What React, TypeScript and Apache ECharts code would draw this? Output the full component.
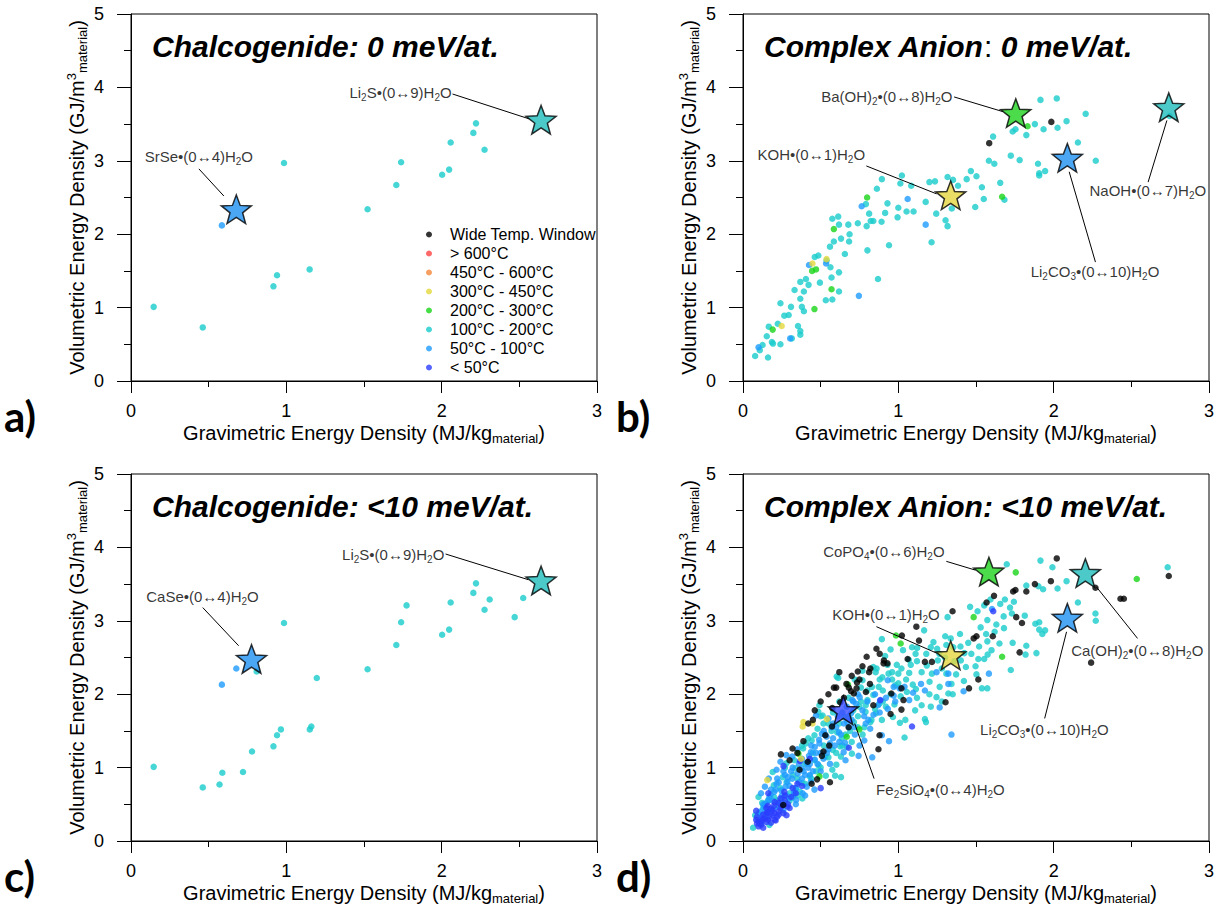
import React, { useEffect, useRef } from "react";
import * as echarts from "echarts";

const FONT = "'Liberation Sans', Arial, sans-serif";

const CATEGORY_NAMES = [
  "Wide Temp. Window",
  "> 600°C",
  "450°C - 600°C",
  "300°C - 450°C",
  "200°C - 300°C",
  "100°C - 200°C",
  "50°C - 100°C",
  "< 50°C",
];
const CATEGORY_COLORS = ["#000000", "#ff4242", "#f5873a", "#e4d83c", "#19d419", "#19cccc", "#1e9bff", "#2a3cff"];

const PANEL_TITLES = [
  "{b|Chalcogenide: 0 meV/at.}",
  "{b|Complex Anion}{n|:}{b| 0 meV/at.}",
  "{b|Chalcogenide: <10 meV/at.}",
  "{b|Complex Anion: <10 meV/at.}",
];
const PANEL_LETTERS = ["a)", "b)", "c)", "d)"];

// ---------- panel a ----------
const aBlue = [[0.585, 2.12]];
const aCyan = [
  [0.985, 2.97], [0.146, 1.01], [0.462, 0.73], [0.917, 1.29], [0.94, 1.44], [1.15, 1.52],
  [1.523, 2.34], [1.708, 2.67], [1.739, 2.98], [2.003, 2.81], [2.048, 2.88], [2.058, 3.25],
  [2.204, 3.38], [2.221, 3.51], [2.276, 3.15],
];

// ---------- panel b ----------
const bBlack = [[1.585, 3.24], [1.985, 3.53]];
const bGreen = [
  [1.832, 3.47], [1.668, 2.51], [0.799, 2.5], [0.585, 2.07], [0.191, 0.7], [0.445, 1.5],
  [0.47, 1.52], [0.46, 0.98], [0.57, 1.25],
];
const bYellow = [[0.447, 1.6], [0.538, 1.66], [0.249, 0.75]];
const bBlue = [
  [0.425, 1.58], [0.535, 1.6], [0.764, 2.38], [1.06, 2.48], [1.176, 2.13], [0.746, 1.16],
  [0.1, 0.46], [0.304, 0.58],
];
const bCyan = [
  [1.915, 3.83], [2.02, 3.85], [1.879, 3.5], [1.935, 3.43], [2.025, 3.45], [2.083, 3.54],
  [2.206, 3.64], [1.736, 3.4], [1.754, 3.43], [1.824, 3.35], [1.61, 3.33], [1.583, 3.0],
  [1.618, 2.96], [1.724, 3.07], [1.781, 3.01], [1.899, 2.96], [1.907, 2.83], [1.907, 2.8],
  [1.945, 2.86], [2.156, 3.25], [2.271, 3.0], [2.746, 3.61],
  [1.467, 2.86], [1.503, 2.79], [1.44, 2.75], [1.317, 2.78], [1.352, 2.74], [1.236, 2.72],
  [1.2, 2.71], [1.023, 2.8], [1.013, 2.69], [1.083, 2.66], [0.894, 2.75], [0.862, 2.62],
  [1.538, 2.64], [1.656, 2.7], [1.683, 2.47], [1.55, 2.48], [1.495, 2.37], [1.344, 2.35],
  [1.384, 2.66], [1.176, 2.44], [1.244, 2.28], [1.304, 2.19], [1.317, 2.11], [1.214, 1.89],
  [1.098, 2.31], [1.053, 2.31], [1.0, 2.36], [0.995, 2.23], [0.93, 2.42], [0.915, 2.29],
  [0.892, 2.17], [0.94, 1.85], [0.869, 1.39], [0.839, 2.18], [0.812, 2.28], [0.822, 2.18],
  [0.796, 2.11], [0.791, 2.41], [0.801, 1.78], [0.739, 2.15], [0.686, 2.0], [0.683, 1.9],
  [0.678, 2.13], [0.631, 1.94], [0.656, 1.73], [0.618, 2.13], [0.613, 2.24], [0.575, 2.21],
  [0.585, 1.9], [0.56, 1.83], [0.618, 1.48], [0.57, 1.41], [0.563, 1.55], [0.538, 1.64],
  [0.485, 1.71], [0.462, 1.69], [0.533, 1.1], [0.575, 1.11], [0.618, 1.22], [0.495, 1.34],
  [0.422, 1.31], [0.405, 1.39], [0.369, 1.35], [0.332, 1.24], [0.392, 1.22], [0.369, 1.12],
  [0.379, 1.01], [0.392, 0.95], [0.309, 1.01], [0.241, 1.06], [0.294, 0.9], [0.266, 0.89],
  [0.354, 0.75], [0.369, 0.68], [0.369, 0.63], [0.314, 0.58], [0.224, 0.78], [0.166, 0.74],
  [0.153, 0.61], [0.186, 0.53], [0.241, 0.5], [0.126, 0.49], [0.108, 0.42], [0.078, 0.34],
  [0.161, 0.32], [0.193, 0.51],
];

// ---------- panel c ----------
const cBlue = [[0.585, 2.13], [0.678, 2.35]];
const cCyan = [
  [0.809, 2.31], [0.985, 2.97], [1.196, 2.22], [0.146, 1.01], [0.462, 0.73], [0.57, 0.77],
  [0.588, 0.93], [0.721, 0.94], [0.779, 1.22], [0.917, 1.29], [0.94, 1.44], [0.965, 1.52],
  [1.151, 1.52], [1.161, 1.56], [1.523, 2.34], [1.708, 2.67], [1.739, 2.98], [1.774, 3.21],
  [2.003, 2.81], [2.048, 2.88], [2.058, 3.25], [2.204, 3.38], [2.221, 3.51], [2.276, 3.15],
  [2.309, 3.29], [2.47, 3.05], [2.525, 3.31],
];

// ---------- panel d ----------
const dBlack = [
  [2.02, 3.85], [1.982, 3.54], [1.879, 3.5], [1.824, 3.4], [1.754, 3.42], [1.739, 3.4],
  [1.616, 3.34], [1.568, 3.25], [1.759, 3.05], [1.796, 2.97], [1.781, 2.57], [2.269, 3.45],
  [2.43, 3.3], [2.452, 3.3], [2.741, 3.61], [2.241, 2.43], [1.608, 2.79], [1.515, 2.2],
  [1.455, 2.08], [1.349, 3.13], [1.304, 1.89], [1.503, 2.79], [1.485, 2.76], [1.116, 2.92],
  [1.023, 2.8], [1.133, 2.73], [1.171, 2.44], [1.216, 2.44], [1.06, 2.48], [1.02, 2.08],
  [1.033, 1.92], [1.02, 1.79], [0.95, 1.73], [0.955, 2.01], [0.907, 2.46], [0.905, 2.42],
  [0.93, 2.42], [0.859, 2.62], [0.796, 2.51], [0.769, 2.38], [0.812, 2.3], [0.739, 2.31],
  [0.731, 2.08], [0.714, 2.01], [0.696, 2.04], [0.681, 2.09], [0.666, 2.14], [0.734, 2.16],
  [0.817, 2.14], [0.791, 2.03], [0.6, 2.09], [0.585, 2.09], [0.626, 1.89], [0.575, 1.81],
  [0.462, 1.78], [0.42, 1.6], [0.573, 1.56], [0.53, 1.44], [0.555, 1.3], [0.518, 1.22],
  [0.508, 1.16], [0.417, 1.08], [0.389, 1.36], [0.244, 1.18], [0.319, 1.26], [0.477, 0.84],
  [0.56, 0.8], [0.442, 0.78], [0.364, 0.97], [0.259, 0.49], [0.872, 1.25], [0.879, 1.44],
  [0.839, 1.85],
  [0.65, 1.95], [0.7, 2.25], [0.75, 2.2], [0.62, 2.3], [0.55, 2.0], [0.5, 1.9], [0.45, 1.65],
  [0.68, 1.55], [0.35, 1.2], [0.3, 1.1], [0.82, 2.35], [0.88, 2.55],
];
const dGreen = [
  [1.756, 3.66], [2.535, 3.57], [1.485, 3.05], [0.985, 2.8], [1.015, 2.69], [1.668, 2.51],
  [0.676, 2.13], [0.668, 1.42], [0.749, 1.52], [0.357, 1.19], [0.492, 0.88],
];
const dYellow = [[0.389, 1.62], [0.447, 1.6], [0.384, 1.56], [0.54, 1.66], [0.156, 0.83], [0.374, 1.12]];
const dCyan = [
  [1.698, 3.77], [1.915, 3.82], [1.992, 3.73], [2.083, 3.54], [1.902, 3.47], [1.932, 3.43],
  [2.025, 3.44], [1.824, 3.48], [2.734, 3.73], [2.269, 3.1], [2.271, 3.0], [2.156, 3.25],
  [1.907, 2.98], [1.907, 2.88], [1.945, 2.87], [1.927, 2.82], [1.882, 2.96], [1.814, 3.07],
  [1.731, 3.1], [1.678, 3.06], [1.631, 2.95], [1.656, 3.23], [1.686, 3.29], [1.744, 3.26],
  [1.719, 3.18], [1.593, 3.29], [1.553, 3.21], [1.51, 3.13], [1.462, 3.19], [1.573, 3.01],
  [1.53, 2.91], [1.565, 2.82], [1.573, 2.72], [1.651, 2.69], [1.736, 2.7], [1.824, 2.66],
  [1.819, 2.54], [1.889, 2.56], [1.724, 2.33], [1.575, 2.54], [1.553, 2.48], [1.515, 2.48],
  [1.497, 2.38], [1.503, 2.27], [1.538, 2.08], [1.573, 2.08], [1.397, 2.82], [1.337, 2.76],
  [1.302, 2.79], [1.317, 3.05], [1.309, 2.67], [1.354, 2.64], [1.425, 2.56], [1.402, 2.46],
  [1.435, 2.37], [1.422, 2.18], [1.372, 2.27], [1.342, 2.14], [1.309, 2.28], [1.322, 2.01],
  [1.266, 2.1], [1.246, 1.96], [1.209, 1.83], [1.171, 1.66], [1.178, 1.62], [1.04, 1.41],
  [1.01, 1.61], [0.965, 1.69], [1.045, 1.65], [1.108, 1.78], [1.201, 2.17], [1.216, 2.28],
  [1.183, 2.39], [1.254, 2.46], [1.264, 2.55], [1.209, 2.64], [1.226, 2.71], [1.166, 2.87],
  [1.121, 2.63], [1.111, 2.55], [1.068, 2.47], [0.99, 2.4], [1.0, 2.28], [0.98, 2.12],
  [0.937, 2.28], [0.915, 2.52], [0.894, 2.75], [0.95, 2.61], [1.03, 2.6], [1.088, 2.64],
  [1.07, 2.29], [1.093, 2.13], [1.113, 2.07], [1.055, 2.03], [1.015, 1.97], [0.975, 1.86],
  [0.92, 1.83], [0.877, 1.87], [0.839, 1.99], [0.874, 2.1], [0.897, 2.23], [0.854, 2.3],
  [0.839, 2.37], [0.769, 2.32], [0.769, 2.19], [0.759, 2.09], [0.801, 1.92], [0.749, 1.83],
  [0.789, 1.76], [0.857, 1.74], [0.894, 1.65], [0.827, 1.65], [0.781, 1.55], [0.714, 1.62],
  [0.651, 1.69], [0.613, 2.22], [0.603, 2.24], [0.492, 1.85], [0.485, 1.76], [0.513, 1.71],
  [0.518, 1.6], [0.48, 1.53], [0.46, 1.44], [0.442, 1.37], [0.405, 1.33], [0.387, 1.26],
  [0.606, 1.48], [0.636, 1.4], [0.668, 1.28], [0.701, 1.19], [0.626, 1.29], [0.578, 1.24],
  [0.55, 1.14], [0.601, 1.04], [0.575, 0.97], [0.533, 0.89], [0.593, 0.89], [0.631, 0.87],
  [0.487, 1.03], [0.43, 0.88], [0.382, 0.79], [0.342, 0.72], [0.367, 0.67], [0.382, 0.58],
  [0.319, 0.59], [0.266, 0.52], [0.229, 0.47], [0.198, 0.76], [0.191, 0.94], [0.279, 1.06],
  [0.337, 0.99], [0.322, 0.9], [0.256, 0.87], [0.153, 0.33], [0.078, 0.35], [0.065, 0.18],
  [0.095, 0.29], [0.123, 0.52], [0.1, 0.6],
  [0.2, 0.6], [0.24, 0.72], [0.28, 0.8], [0.3, 0.55], [0.35, 0.62], [0.4, 0.78], [0.44, 0.85],
  [0.47, 0.95], [0.5, 1.0], [0.53, 1.15], [0.6, 1.2], [0.63, 1.15], [0.66, 1.45], [0.7, 1.35],
  [0.74, 1.55], [0.77, 1.45], [0.82, 1.62], [0.85, 1.8], [0.9, 1.9], [0.95, 2.0], [1.0, 2.15],
  [1.05, 2.2], [0.55, 1.6], [0.5, 1.7], [0.42, 1.4], [0.38, 1.3], [0.33, 1.1], [0.27, 1.0],
  [0.16, 0.55], [0.13, 0.45], [0.1, 0.38], [0.17, 0.22], [0.12, 0.25], [0.58, 1.75], [0.62, 1.9],
  [0.68, 1.95], [0.72, 2.2], [0.8, 2.05], [0.86, 2.35], [0.93, 2.4],
  [0.35, 0.85], [0.45, 1.2], [0.52, 1.3], [0.57, 1.5], [0.62, 1.6], [0.68, 1.7], [0.71, 1.78],
  [0.76, 1.9], [0.83, 2.1], [0.88, 2.2], [0.96, 2.3], [1.02, 2.35], [1.08, 2.4], [1.12, 2.45],
  [1.15, 2.3], [1.18, 2.55], [1.25, 2.62], [1.3, 2.5], [1.28, 2.35], [1.36, 2.45], [1.4, 2.65],
  [1.45, 2.7], [1.47, 2.55], [1.52, 2.65], [1.6, 2.6], [1.62, 2.85], [1.68, 2.9], [0.3, 0.65],
  [0.25, 0.58], [0.22, 0.55], [0.18, 0.42], [0.4, 1.05], [0.46, 1.1], [0.64, 1.3], [0.69, 1.5],
  [0.74, 1.7], [0.79, 1.85], [0.9, 2.05], [0.96, 2.2], [1.12, 1.95], [1.15, 1.85], [1.2, 2.0],
  [1.28, 1.9], [1.35, 2.0],
];
const dBlue = [
  [1.603, 3.16], [1.583, 2.28], [1.42, 2.04], [1.266, 1.82], [1.342, 1.45], [1.322, 2.28],
  [1.322, 2.14], [1.246, 2.3], [1.171, 2.05], [1.146, 2.14], [1.095, 2.02], [1.07, 1.92],
  [1.008, 2.08], [0.97, 2.1], [0.932, 2.19], [0.882, 1.91], [0.932, 1.8], [0.94, 1.36],
  [0.894, 1.44], [0.819, 1.53], [0.807, 1.65], [0.769, 1.78], [0.729, 1.87], [0.751, 1.96],
  [0.704, 1.92], [0.696, 1.74], [0.719, 1.55], [0.683, 1.55], [0.744, 1.16], [0.832, 1.14],
  [0.781, 1.37], [0.656, 1.34], [0.648, 1.21], [0.56, 1.33], [0.538, 1.42], [0.508, 1.46],
  [0.492, 1.33], [0.462, 1.28], [0.437, 1.21], [0.425, 1.16], [0.462, 1.11], [0.518, 1.12],
  [0.41, 1.06], [0.379, 0.99], [0.352, 0.92], [0.317, 0.85], [0.286, 0.81], [0.274, 0.74],
  [0.246, 0.69], [0.216, 0.78], [0.201, 0.67], [0.178, 0.63], [0.166, 0.56], [0.146, 0.51],
  [0.136, 0.47], [0.116, 0.65], [0.111, 0.4], [0.329, 0.64], [0.296, 0.58], [0.342, 0.56],
  [0.384, 0.65], [0.41, 0.74], [0.437, 0.81], [0.618, 1.48], [0.58, 1.6], [0.55, 1.67],
  [0.668, 1.83], [0.47, 1.71], [0.317, 1.15], [0.279, 1.17], [0.241, 1.08], [0.216, 0.97],
  [0.166, 0.85], [0.141, 0.74],
  [0.2, 0.45], [0.25, 0.62], [0.3, 0.75], [0.33, 0.68], [0.36, 0.8], [0.4, 0.9], [0.42, 1.0],
  [0.45, 0.95], [0.48, 1.05], [0.5, 1.2], [0.55, 1.25], [0.58, 1.4], [0.62, 1.35], [0.6, 1.55],
  [0.65, 1.6], [0.7, 1.65], [0.72, 1.45], [0.78, 1.7], [0.8, 1.9], [0.85, 2.0], [0.88, 1.75],
  [0.92, 1.95], [0.98, 1.9], [0.27, 0.9], [0.31, 0.95], [0.38, 1.12], [0.35, 1.25], [0.44, 1.3],
  [0.52, 1.5], [0.15, 0.4], [0.18, 0.7], [0.22, 0.85], [0.12, 0.35], [0.26, 0.42], [0.34, 0.5],
  [0.4, 0.62], [0.46, 0.7], [0.56, 1.05], [0.66, 1.1], [0.75, 1.3],
  [0.13, 0.5], [0.17, 0.6], [0.21, 0.7], [0.23, 0.8], [0.26, 0.95], [0.29, 0.87], [0.32, 1.0],
  [0.36, 1.05], [0.39, 0.95], [0.43, 1.05], [0.47, 1.2], [0.49, 1.38], [0.53, 1.45], [0.57, 1.55],
  [0.61, 1.7], [0.64, 1.75], [0.67, 1.62], [0.71, 1.9], [0.74, 2.0], [0.79, 1.6], [0.84, 1.72],
  [0.87, 1.85], [0.97, 1.98], [1.04, 2.1], [0.19, 0.55], [0.24, 0.5], [0.28, 0.62], [0.34, 0.72],
  [0.38, 0.85], [0.43, 0.9], [0.5, 0.95], [0.54, 1.2], [0.59, 1.3], [0.63, 1.45],
];
const dDark = [
  [1.088, 1.56], [1.611, 3.13], [0.884, 1.92], [0.681, 1.27], [0.5, 0.72], [0.367, 1.09],
  [0.261, 1.02], [0.266, 0.67], [0.241, 0.58], [0.204, 0.53], [0.178, 0.44], [0.153, 0.38],
  [0.128, 0.31], [0.103, 0.26], [0.116, 0.22], [0.085, 0.29], [0.161, 0.29], [0.204, 0.29],
  [0.191, 0.35], [0.229, 0.4], [0.161, 0.39], [0.085, 0.41], [0.163, 0.65], [0.286, 0.47],
  [0.229, 0.52],
  [0.1, 0.2], [0.13, 0.18], [0.14, 0.3], [0.18, 0.25], [0.2, 0.38], [0.22, 0.33], [0.12, 0.28],
  [0.24, 0.45], [0.27, 0.55], [0.3, 0.45], [0.32, 0.72], [0.28, 0.35], [0.16, 0.48], [0.09, 0.33],
  [0.35, 0.78], [0.43, 1.12],
  [0.11, 0.24], [0.13, 0.36], [0.15, 0.26], [0.17, 0.33], [0.19, 0.42], [0.21, 0.28], [0.23, 0.36],
  [0.25, 0.48], [0.26, 0.38], [0.29, 0.5], [0.31, 0.6], [0.34, 0.65], [0.15, 0.45], [0.09, 0.24],
  [0.2, 0.48], [0.38, 0.75], [0.27, 0.62],
];

// ---------- highlighted compounds (stars) ----------
const starPanel = [0, 0, 1, 1, 1, 1, 2, 2, 3, 3, 3, 3, 3];
const starX = [2.64, 0.678, 1.756, 1.337, 2.088, 2.741, 0.776, 2.64, 1.583, 2.204, 2.088, 1.337, 0.646];
const starY = [3.56, 2.34, 3.65, 2.53, 3.04, 3.73, 2.48, 3.55, 3.67, 3.65, 3.04, 2.53, 1.78];
const starColor = ["#1fbcbc", "#1e90f0", "#1ed21e", "#e6d640", "#1e90f0", "#1fbcbc", "#1e90f0", "#1fbcbc", "#1ed21e", "#1fbcbc", "#1e90f0", "#e6d640", "#3a4cff"];

// ---------- annotation labels ----------
const noteText = [
  "{n|Li}{s|2}{n|S•(0↔9)H}{s|2}{n|O}",
  "{n|SrSe•(0↔4)H}{s|2}{n|O}",
  "{n|Ba(OH)}{s|2}{n|•(0↔8)H}{s|2}{n|O}",
  "{n|KOH•(0↔1)H}{s|2}{n|O}",
  "{n|Li}{s|2}{n|CO}{s|3}{n|•(0↔10)H}{s|2}{n|O}",
  "{n|NaOH•(0↔7)H}{s|2}{n|O}",
  "{n|CaSe•(0↔4)H}{s|2}{n|O}",
  "{n|Li}{s|2}{n|S•(0↔9)H}{s|2}{n|O}",
  "{n|CoPO}{s|4}{n|•(0↔6)H}{s|2}{n|O}",
  "{n|KOH•(0↔1)H}{s|2}{n|O}",
  "{n|Ca(OH)}{s|2}{n|•(0↔8)H}{s|2}{n|O}",
  "{n|Li}{s|2}{n|CO}{s|3}{n|•(0↔10)H}{s|2}{n|O}",
  "{n|Fe}{s|2}{n|SiO}{s|4}{n|•(0↔4)H}{s|2}{n|O}",
];
const notePanel = [0, 0, 1, 1, 1, 1, 2, 2, 3, 3, 3, 3, 3];
const noteX = [1.735, 0.437, 0.926, 0.44, 2.266, 2.606, 0.46, 1.688, 0.907, 0.921, 2.538, 1.94, 1.271];
const noteY = [3.93, 3.06, 3.87, 3.09, 1.49, 2.59, 3.33, 3.91, 3.95, 3.08, 2.6, 1.52, 0.7];
const leaderFrom = [[2.07, 3.91], [0.437, 2.89], [1.359, 3.87], [0.794, 2.93], [2.269, 1.62], [2.608, 2.71], [0.462, 3.18], [2.025, 3.91], [1.309, 3.81], [0.859, 2.92], [2.54, 2.76], [1.942, 1.67], [0.844, 0.85]];
const leaderTo = [[2.565, 3.57], [0.598, 2.52], [1.673, 3.67], [1.246, 2.55], [2.1, 2.85], [2.729, 3.55], [0.693, 2.66], [2.558, 3.56], [1.497, 3.69], [1.246, 2.56], [2.276, 3.46], [2.083, 2.85], [0.719, 1.6]];

const STAR_PATH =
  "path://M50 0 L62.34 33.01 L97.55 34.55 L69.97 56.49 L79.39 90.45 L50 71 L20.61 90.45 L30.03 56.49 L2.45 34.55 L37.66 33.01 Z";

const GRIDS = [
  { left: 131, top: 14 },
  { left: 743, top: 14 },
  { left: 131, top: 474 },
  { left: 743, top: 474 },
];
const GW = 466;
const GH = 367;

function buildOption() {
  const grid = GRIDS.map((g) => ({
    left: g.left,
    top: g.top,
    width: GW,
    height: GH,
    show: true,
    borderColor: "#000",
    borderWidth: 1,
    backgroundColor: "transparent",
  }));

  const tickLine = { color: "#000", width: 1 };
  const xAxis = GRIDS.map((_, i) => ({
    type: "value",
    gridIndex: i,
    min: 0,
    max: 3,
    interval: 1,
    axisLine: { show: true, onZero: false, lineStyle: tickLine },
    axisTick: { show: true, inside: false, length: 12, lineStyle: tickLine },
    minorTick: { show: true, splitNumber: 2, length: 6, lineStyle: tickLine },
    splitLine: { show: false },
    minorSplitLine: { show: false },
    axisLabel: { fontSize: 18, color: "#000", margin: 21, fontFamily: FONT },
    name: "{m|Gravimetric Energy Density (MJ/kg}{sub|material}{m|)}",
    nameLocation: "middle",
    nameGap: 40,
    nameTextStyle: {
      fontFamily: FONT,
      color: "#000",
      rich: {
        m: { fontSize: 20, lineHeight: 24, fontFamily: FONT, color: "#000" },
        sub: { fontSize: 13, lineHeight: 12, verticalAlign: "bottom", fontFamily: FONT, color: "#000" },
      },
    },
  }));
  const yAxis = GRIDS.map((_, i) => ({
    type: "value",
    gridIndex: i,
    min: 0,
    max: 5,
    interval: 1,
    axisLine: { show: true, onZero: false, lineStyle: tickLine },
    axisTick: { show: true, inside: false, length: 14, lineStyle: tickLine },
    minorTick: { show: true, splitNumber: 2, length: 7, lineStyle: tickLine },
    splitLine: { show: false },
    minorSplitLine: { show: false },
    axisLabel: { fontSize: 18, color: "#000", margin: 27, fontFamily: FONT },
    name: "{m|Volumetric Energy Density (GJ/m}{sup|3}{sub|material}{m|)}",
    nameLocation: "middle",
    nameGap: 42,
    nameTextStyle: {
      fontFamily: FONT,
      color: "#000",
      rich: {
        m: { fontSize: 20, lineHeight: 24, fontFamily: FONT, color: "#000" },
        sup: { fontSize: 13, lineHeight: 12, verticalAlign: "top", fontFamily: FONT, color: "#000" },
        sub: { fontSize: 13, lineHeight: 12, verticalAlign: "bottom", fontFamily: FONT, color: "#000" },
      },
    },
  }));

  const series: any[] = [];
  const dots = (data: number[][], cat: number, gi: number) => ({
    type: "scatter",
    name: CATEGORY_NAMES[cat],
    xAxisIndex: gi,
    yAxisIndex: gi,
    data,
    symbol: "circle",
    symbolSize: 6.5,
    itemStyle: { color: CATEGORY_COLORS[cat] },
    silent: true,
    z: 2,
  });

  // legend entries (in legend order) on panel a
  series.push(dots([], 0, 0));
  series.push(dots([], 1, 0));
  series.push(dots([], 2, 0));
  series.push(dots([], 3, 0));
  series.push(dots([], 4, 0));
  series.push(dots(aCyan, 5, 0));
  series.push(dots(aBlue, 6, 0));
  series.push(dots([], 7, 0));

  // panel b
  series.push(dots(bCyan, 5, 1));
  series.push(dots(bBlue, 6, 1));
  series.push(dots(bGreen, 4, 1));
  series.push(dots(bYellow, 3, 1));
  series.push(dots(bBlack, 0, 1));
  // panel c
  series.push(dots(cCyan, 5, 2));
  series.push(dots(cBlue, 6, 2));
  // panel d
  series.push(dots(dCyan, 5, 3));
  series.push(dots(dBlue, 6, 3));
  series.push(dots(dDark, 7, 3));
  series.push(dots(dGreen, 4, 3));
  series.push(dots(dYellow, 3, 3));
  series.push(dots(dBlack, 0, 3));

  // leader lines
  leaderFrom.forEach((f, i) => {
    series.push({
      type: "line",
      xAxisIndex: notePanel[i],
      yAxisIndex: notePanel[i],
      data: [f, leaderTo[i]],
      symbol: "none",
      lineStyle: { color: "#000", width: 1 },
      silent: true,
      z: 3,
    });
  });

  // stars
  starX.forEach((x, i) => {
    series.push({
      type: "scatter",
      xAxisIndex: starPanel[i],
      yAxisIndex: starPanel[i],
      data: [[x, starY[i]]],
      symbol: STAR_PATH,
      symbolKeepAspect: true,
      symbolSize: 30,
      itemStyle: { color: starColor[i], borderColor: "#000", borderWidth: 1.5 },
      silent: true,
      z: 4,
    });
  });

  // annotation texts
  noteText.forEach((t, i) => {
    series.push({
      type: "scatter",
      xAxisIndex: notePanel[i],
      yAxisIndex: notePanel[i],
      data: [[noteX[i], noteY[i]]],
      symbolSize: 0,
      silent: true,
      z: 5,
      label: {
        show: true,
        position: "inside",
        formatter: t,
        rich: {
          n: { fontSize: 15, lineHeight: 20, fontFamily: FONT, color: "#000" },
          s: { fontSize: 10, lineHeight: 10, verticalAlign: "bottom", fontFamily: FONT, color: "#000" },
        },
      },
    });
  });

  const graphic: any[] = [];
  GRIDS.forEach((g, i) => {
    graphic.push({
      type: "text",
      x: g.left + 21,
      y: g.top + 32,
      silent: true,
      style: {
        text: PANEL_TITLES[i],
        verticalAlign: "middle",
        rich: {
          b: { font: `italic bold 30px ${FONT}`, fill: "#000" },
          n: { font: `30px ${FONT}`, fill: "#000" },
        },
      },
    });
    graphic.push({
      type: "text",
      x: g.left - 127,
      y: g.top + GH + 35,
      silent: true,
      style: {
        text: PANEL_LETTERS[i],
        font: "bold 42px Lato, 'Open Sans', sans-serif",
        fill: "#000",
        verticalAlign: "middle",
      },
    });
  });

  return {
    animation: false,
    backgroundColor: "#ffffff",
    grid,
    xAxis,
    yAxis,
    series,
    graphic,
    legend: {
      show: true,
      selectedMode: false,
      orient: "vertical",
      left: 426,
      top: 225,
      padding: 0,
      itemGap: 0,
      itemWidth: 6,
      itemHeight: 6,
      icon: "circle",
      data: CATEGORY_NAMES,
      textStyle: { fontSize: 16, lineHeight: 19, color: "#000", fontFamily: FONT, padding: [0, 0, 0, 13] },
    },
  };
}

export default function App() {
  const ref = useRef<HTMLDivElement>(null);
  useEffect(() => {
    const chart = echarts.init(ref.current!, null, { renderer: "svg" });
    chart.setOption(buildOption() as any);
    return () => chart.dispose();
  }, []);
  return (
    <div
      ref={ref}
      style={{ position: "absolute", left: 0, top: 0, width: 1225, height: 907, background: "#fff" }}
    />
  );
}
